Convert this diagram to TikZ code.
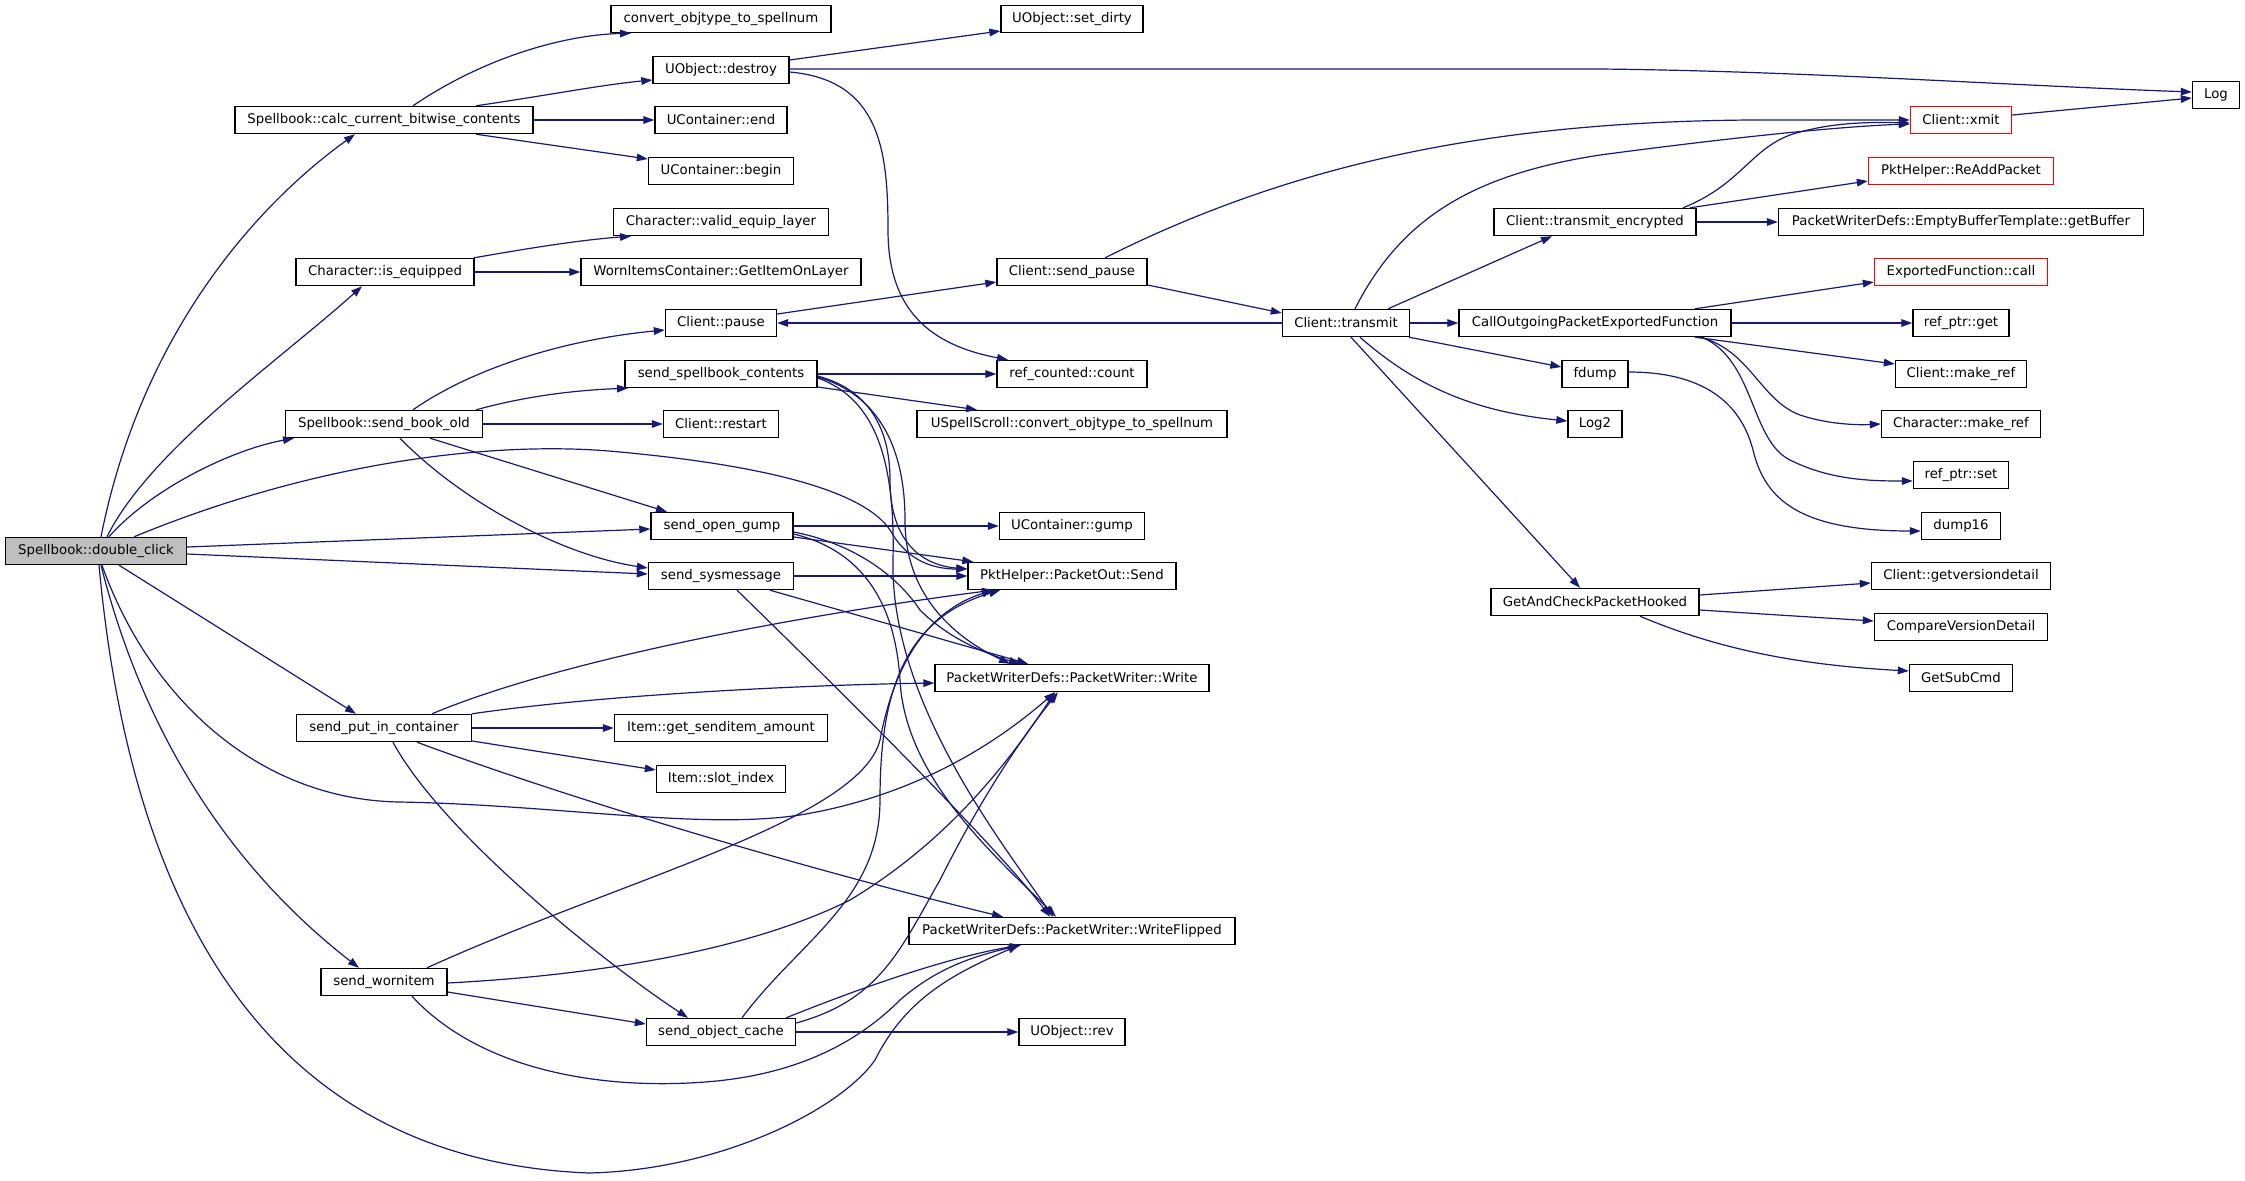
\documentclass[tikz,border=0pt]{standalone}
\usepackage{fontspec}
\newfontfamily\fnfont{DejaVu Sans}
\usetikzlibrary{arrows.meta}
\definecolor{edgec}{RGB}{25,25,112}
\definecolor{rootgray}{RGB}{191,191,191}
\begin{document}
\begin{tikzpicture}[x=0.5pt,y=-0.5pt,
  fn/.style={draw=black, line width=0.7pt, minimum height=13.5pt, inner sep=0pt,
    font={\fnfont\fontsize{6.65pt}{8pt}\selectfont}},
  redbox/.style={draw=red},
  rootbox/.style={fill=rootgray},
  call/.style={draw=edgec, line width=0.6pt, -{Triangle[length=5.5pt,width=3.8pt]}}]
\fill[white] (0,0) rectangle (2245,1180);
\useasboundingbox (0,0) rectangle (2245,1180);
% column 0
\node[fn, rootbox, minimum width=90.5pt] (dc) at (96,551) {Spellbook::double\_click};
% column 1
\node[fn, minimum width=149pt] (calc) at (384,120) {Spellbook::calc\_current\_bitwise\_contents};
\node[fn, minimum width=89pt] (iseq) at (385,272) {Character::is\_equipped};
\node[fn, minimum width=98.5pt] (sbo) at (384,424) {Spellbook::send\_book\_old};
\node[fn, minimum width=87.5pt] (spc) at (384,728) {send\_put\_in\_container};
\node[fn, minimum width=63pt] (swi) at (384,982) {send\_wornitem};
% column 2
\node[fn, minimum width=110pt] (cots) at (721,19) {convert\_objtype\_to\_spellnum};
\node[fn, minimum width=68pt] (destroy) at (721,70) {UObject::destroy};
\node[fn, minimum width=66pt] (cend) at (721,120) {UContainer::end};
\node[fn, minimum width=72.5pt] (cbegin) at (721,171) {UContainer::begin};
\node[fn, minimum width=107.5pt] (vel) at (721,222) {Character::valid\_equip\_layer};
\node[fn, minimum width=140pt] (gil) at (721,272) {WornItemsContainer::GetItemOnLayer};
\node[fn, minimum width=55.5pt] (pause) at (721,323) {Client::pause};
\node[fn, minimum width=96pt] (ssc) at (721,374) {send\_spellbook\_contents};
\node[fn, minimum width=57.5pt] (restart) at (721,424) {Client::restart};
\node[fn, minimum width=71pt] (sog) at (722,526) {send\_open\_gump};
\node[fn, minimum width=72.5pt] (ssm) at (721,576) {send\_sysmessage};
\node[fn, minimum width=106.5pt] (gsa) at (721,728) {Item::get\_senditem\_amount};
\node[fn, minimum width=64.5pt] (slot) at (721,779) {Item::slot\_index};
\node[fn, minimum width=74.5pt] (soc) at (721,1032) {send\_object\_cache};
% column 3
\node[fn, minimum width=71pt] (setdirty) at (1072,19) {UObject::set\_dirty};
\node[fn, minimum width=75pt] (sendpause) at (1072,272) {Client::send\_pause};
\node[fn, minimum width=75pt] (count) at (1072,374) {ref\_counted::count};
\node[fn, minimum width=155pt] (uss) at (1072,424) {USpellScroll::convert\_objtype\_to\_spellnum};
\node[fn, minimum width=72.5pt] (gump) at (1072,526) {UContainer::gump};
\node[fn, minimum width=104pt] (send) at (1072,576) {PktHelper::PacketOut::Send};
\node[fn, minimum width=137pt] (write) at (1072,678) {PacketWriterDefs::PacketWriter::Write};
\node[fn, minimum width=163pt] (wflip) at (1072,931) {PacketWriterDefs::PacketWriter::WriteFlipped};
\node[fn, minimum width=53pt] (rev) at (1072,1032) {UObject::rev};
% column 4
\node[fn, minimum width=63.5pt] (transmit) at (1346,323) {Client::transmit};
% column 5
\node[fn, minimum width=101pt] (tenc) at (1595,222) {Client::transmit\_encrypted};
\node[fn, minimum width=136pt] (callout) at (1595,323) {CallOutgoingPacketExportedFunction};
\node[fn, minimum width=33pt] (fdump) at (1595,374) {fdump};
\node[fn, minimum width=27pt] (log2) at (1595,424) {Log2};
\node[fn, minimum width=104pt] (gacph) at (1595,602) {GetAndCheckPacketHooked};
% column 6
\node[fn, redbox, minimum width=50.5pt] (xmit) at (1961,120) {Client::xmit};
\node[fn, redbox, minimum width=92.5pt] (readd) at (1961,171) {PktHelper::ReAddPacket};
\node[fn, minimum width=182.5pt] (getbuf) at (1961,222) {PacketWriterDefs::EmptyBufferTemplate::getBuffer};
\node[fn, redbox, minimum width=86.5pt] (expcall) at (1961,272) {ExportedFunction::call};
\node[fn, minimum width=48pt] (rpget) at (1961,323) {ref\_ptr::get};
\node[fn, minimum width=65.5pt] (cmref) at (1961,374) {Client::make\_ref};
\node[fn, minimum width=79.5pt] (chmref) at (1961,424) {Character::make\_ref};
\node[fn, minimum width=47.5pt] (rpset) at (1961,475) {ref\_ptr::set};
\node[fn, minimum width=39.5pt] (dump16) at (1961,526) {dump16};
\node[fn, minimum width=89.5pt] (gvd) at (1961,576) {Client::getversiondetail};
\node[fn, minimum width=86.5pt] (cvd) at (1961,627) {CompareVersionDetail};
\node[fn, minimum width=51.5pt] (gsc) at (1961,678) {GetSubCmd};
% column 7
\node[fn, minimum width=23.5pt] (log) at (2216,95) {Log};

% ---- edges from Spellbook::double_click
\draw[call] ([shift={(5,0)}]dc.north) .. controls (140,340) and (250,210) .. ([shift={(-29,0)}]calc.south);
\draw[call] ([shift={(11,0)}]dc.north) .. controls (150,450) and (280,360) .. ([shift={(-23,0)}]iseq.south);
\draw[call] ([shift={(13,0)}]dc.north) .. controls (150,490) and (230,450) .. ([shift={(-90,0)}]sbo.south);
\draw[call] ([shift={(38,0)}]dc.north) .. controls (320,460) and (500,440) .. (620,452) .. controls (760,465) and (870,490) .. (893,535) .. controls (910,562) and (935,569) .. ([shift={(0,-7)}]send.west);
\draw[call] ([shift={(0,-4)}]dc.east) -- ([shift={(0,3)}]sog.west);
\draw[call] ([shift={(0,3)}]dc.east) -- ([shift={(0,-2)}]ssm.west);
\draw[call] ([shift={(23,0)}]dc.south) -- ([shift={(-28,0)}]spc.north);
\draw[call] ([shift={(6,0)}]dc.south) .. controls (150,700) and (260,800) .. (400,802) .. controls (560,805) and (700,830) .. (800,815) .. controls (920,795) and (1000,740) .. ([shift={(-17,0)}]write.south);
\draw[call] ([shift={(5,0)}]dc.south) .. controls (140,720) and (220,860) .. ([shift={(-25,0)}]swi.north);
\draw[call] ([shift={(3,0)}]dc.south) .. controls (130,900) and (260,1160) .. (589,1173) .. controls (720,1170) and (840,1110) .. (875,1060) .. controls (905,1000) and (950,975) .. ([shift={(-53,0)}]wflip.south);

% ---- Spellbook::send_book_old
\draw[call] ([shift={(29,0)}]sbo.north) .. controls (470,370) and (560,340) .. ([shift={(0,7)}]pause.west);
\draw[call] ([shift={(92,0)}]sbo.north) .. controls (530,395) and (580,390) .. ([shift={(-93,0)}]ssc.south);
\draw[call] (sbo.east) -- (restart.west);
\draw[call] ([shift={(46,0)}]sbo.south) -- ([shift={(-55,0)}]sog.north);
\draw[call] ([shift={(16,0)}]sbo.south) .. controls (460,500) and (560,555) .. ([shift={(0,-8)}]ssm.west);

% ---- Spellbook::calc_current_bitwise_contents
\draw[call] ([shift={(29,0)}]calc.north) .. controls (480,60) and (560,35) .. ([shift={(-90,0)}]cots.south);
\draw[call] ([shift={(92,0)}]calc.north) .. controls (550,95) and (600,85) .. ([shift={(0,10)}]destroy.west);
\draw[call] (calc.east) -- (cend.west);
\draw[call] ([shift={(92,0)}]calc.south) .. controls (550,145) and (600,152) .. ([shift={(0,-12)}]cbegin.west);

% ---- Character::is_equipped
\draw[call] ([shift={(89,0)}]iseq.north) .. controls (530,248) and (580,240) .. ([shift={(-90,0)}]vel.south);
\draw[call] (iseq.east) -- (gil.west);

% ---- UObject::destroy
\draw[call] ([shift={(0,-10)}]destroy.east) -- ([shift={(0,12)}]setdirty.west);
\draw[call] ([shift={(0,-1)}]destroy.east) -- (1600,69) .. controls (1800,71) and (2000,85) .. ([shift={(0,-3)}]log.west);
\draw[call] ([shift={(0,2)}]destroy.east) .. controls (880,80) and (888,150) .. (888,230) .. controls (888,310) and (930,345) .. ([shift={(-64,0)}]count.north);

% ---- Client::pause, send_pause, transmit
\draw[call] ([shift={(0,-9)}]pause.east) -- ([shift={(0,10)}]sendpause.west);
\draw[call] ([shift={(0,13)}]sendpause.east) -- ([shift={(0,-10)}]transmit.west);
\draw[call] ([shift={(33,0)}]sendpause.north) .. controls (1300,160) and (1500,122) .. (1750,120) -- (xmit.west);
\draw[call] ([shift={(9,0)}]transmit.north) .. controls (1400,220) and (1470,175) .. (1600,155) .. controls (1750,135) and (1850,126) .. ([shift={(0,4)}]xmit.west);
\draw[call] (transmit.west) -- (pause.east);
\draw[call] ([shift={(42,0)}]transmit.north) -- ([shift={(-43,0)}]tenc.south);
\draw[call] (transmit.east) -- (callout.west);
\draw[call] ([shift={(63,0)}]transmit.south) -- ([shift={(0,-7)}]fdump.west);
\draw[call] ([shift={(14,0)}]transmit.south) .. controls (1420,390) and (1480,412) .. ([shift={(0,-3)}]log2.west);
\draw[call] ([shift={(5,0)}]transmit.south) -- ([shift={(-15,0)}]gacph.north);

% ---- Client::transmit_encrypted, xmit
\draw[call] ([shift={(88,0)}]tenc.north) .. controls (1740,185) and (1750,150) .. (1790,135) .. controls (1830,122) and (1870,122) .. ([shift={(0,3)}]xmit.west);
\draw[call] ([shift={(95,0)}]tenc.north) -- ([shift={(0,10)}]readd.west);
\draw[call] (tenc.east) -- (getbuf.west);
\draw[call] ([shift={(0,-5)}]xmit.east) -- ([shift={(0,3)}]log.west);

% ---- CallOutgoingPacketExportedFunction, fdump, GetAndCheckPacketHooked
\draw[call] ([shift={(100,0)}]callout.north) -- ([shift={(0,10)}]expcall.west);
\draw[call] (callout.east) -- (rpget.west);
\draw[call] ([shift={(100,0)}]callout.south) -- ([shift={(0,-10)}]cmref.west);
\draw[call] ([shift={(105,0)}]callout.south) .. controls (1750,350) and (1760,400) .. (1800,415) .. controls (1830,425) and (1860,425) .. (chmref.west);
\draw[call] ([shift={(107,0)}]callout.south) .. controls (1755,360) and (1750,440) .. (1790,460) .. controls (1830,480) and (1870,481) .. ([shift={(0,6)}]rpset.west);
\draw[call] ([shift={(0,-2)}]fdump.east) .. controls (1700,372) and (1740,400) .. (1753,450) .. controls (1765,500) and (1800,531) .. ([shift={(0,5)}]dump16.west);
\draw[call] ([shift={(0,-7)}]gacph.east) -- ([shift={(0,7)}]gvd.west);
\draw[call] ([shift={(0,8)}]gacph.east) -- ([shift={(0,-6)}]cvd.west);
\draw[call] ([shift={(45,0)}]gacph.south) .. controls (1720,650) and (1800,665) .. ([shift={(0,-7)}]gsc.west);

% ---- send_spellbook_contents
\draw[call] (ssc.east) -- (count.west);
\draw[call] ([shift={(0,13)}]ssc.east) -- ([shift={(-95,0)}]uss.north);
\draw[call] ([shift={(0,2)}]ssc.east) .. controls (870,390) and (890,430) .. (890,480) .. controls (890,540) and (920,565) .. ([shift={(0,-7)}]send.west);
\draw[call] ([shift={(0,3)}]ssc.east) .. controls (880,395) and (905,450) .. (905,520) .. controls (905,600) and (960,640) .. ([shift={(-62,0)}]write.north);
\draw[call] ([shift={(0,4)}]ssc.east) .. controls (880,400) and (895,470) .. (893,560) .. controls (890,700) and (1000,840) .. ([shift={(-19,0)}]wflip.north);

% ---- send_open_gump
\draw[call] (sog.east) -- (gump.west);
\draw[call] ([shift={(0,11)}]sog.east) -- ([shift={(6,0)}]send.north west);
\draw[call] ([shift={(0,6)}]sog.east) .. controls (860,545) and (900,580) .. (920,610) .. controls (950,640) and (990,655) .. ([shift={(-52,0)}]write.north);
\draw[call] ([shift={(0,8)}]sog.east) .. controls (860,550) and (895,600) .. (900,680) .. controls (905,780) and (1000,860) .. ([shift={(-16,0)}]wflip.north);

% ---- send_sysmessage
\draw[call] (ssm.east) -- (send.west);
\draw[call] ([shift={(49,0)}]ssm.south) -- ([shift={(-44,0)}]write.north);
\draw[call] ([shift={(16,0)}]ssm.south) .. controls (850,700) and (1000,850) .. ([shift={(-22,0)}]wflip.north);

% ---- send_put_in_container
\draw[call] ([shift={(48,0)}]spc.north) .. controls (560,660) and (800,615) .. ([shift={(-79,0)}]send.south);
\draw[call] ([shift={(88,0)}]spc.north) .. controls (600,695) and (800,685) .. ([shift={(0,5)}]write.west);
\draw[call] (spc.east) -- (gsa.west);
\draw[call] ([shift={(0,13)}]spc.east) -- ([shift={(0,-9)}]slot.west);
\draw[call] ([shift={(33,0)}]spc.south) .. controls (600,810) and (850,880) .. ([shift={(-69,0)}]wflip.north);
\draw[call] ([shift={(9,0)}]spc.south) .. controls (440,830) and (600,960) .. ([shift={(-33,0)}]soc.north);

% ---- send_wornitem
\draw[call] ([shift={(43,0)}]swi.north) .. controls (620,880) and (860,820) .. (880,740) .. controls (895,660) and (930,610) .. ([shift={(-79,0)}]send.south);
\draw[call] ([shift={(0,1)}]swi.east) .. controls (600,975) and (750,950) .. (850,900) .. controls (950,840) and (1010,760) .. ([shift={(-17,0)}]write.south);
\draw[call] ([shift={(0,10)}]swi.east) -- ([shift={(0,-8)}]soc.west);
\draw[call] ([shift={(28,0)}]swi.south) .. controls (480,1070) and (600,1090) .. (705,1082) .. controls (800,1075) and (860,1040) .. (900,1000) .. controls (940,965) and (980,955) .. ([shift={(-52,0)}]wflip.south);

% ---- send_object_cache
\draw[call] ([shift={(21,0)}]soc.north) .. controls (800,940) and (880,900) .. (880,800) .. controls (880,700) and (900,620) .. ([shift={(-72,0)}]send.south);
\draw[call] ([shift={(0,-9)}]soc.east) .. controls (880,1000) and (900,950) .. (940,880) .. controls (980,800) and (1020,740) .. ([shift={(-14,0)}]write.south);
\draw[call] ([shift={(-10,0)}]soc.north east) .. controls (880,980) and (960,955) .. ([shift={(-51,0)}]wflip.south);
\draw[call] (soc.east) -- (rev.west);
\end{tikzpicture}
\end{document}
